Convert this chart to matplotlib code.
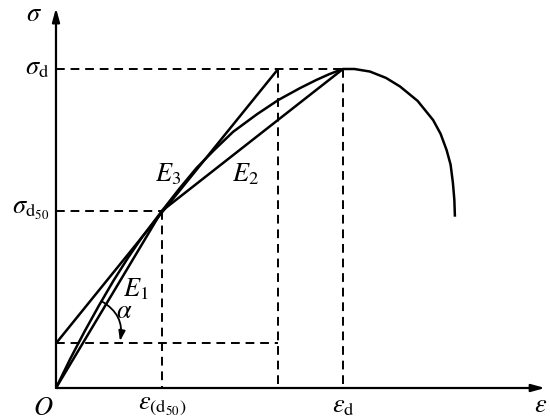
import matplotlib.pyplot as plt

plt.rcParams['mathtext.fontset'] = 'stix'
plt.rcParams['font.family'] = 'Liberation Serif'

# stress-strain curve (eps_d = 1, sigma_d = 1)
eps_curve = [0.0, 0.05, 0.1, 0.15, 0.2, 0.25, 0.3, 0.369, 0.43, 0.49, 0.55,
             0.617, 0.70, 0.775, 0.85, 0.908, 0.95, 0.99, 1.0, 1.04, 1.094,
             1.15, 1.199, 1.26, 1.314, 1.34, 1.361, 1.375, 1.383, 1.388, 1.390]
sig_curve = [0.0, 0.092, 0.178, 0.259, 0.336, 0.407, 0.473, 0.555, 0.625, 0.690,
             0.745, 0.803, 0.858, 0.903, 0.940, 0.966, 0.983, 0.997, 1.0, 1.0,
             0.992, 0.972, 0.945, 0.900, 0.840, 0.797, 0.746, 0.700, 0.643, 0.590, 0.537]

eps_d50, sig_d50 = 0.369, 0.555
eps_d, sig_d = 1.0, 1.0
eps_e3 = 0.774      # where the E3 tangent meets sigma_d
sig_0 = 0.14        # E3 tangent intercept on the sigma axis
eps_max, sig_max = 1.704, 1.191

fig = plt.figure(figsize=(5.5, 4.2), dpi=100)
ax = fig.add_axes([0, 0, 1, 1])
ax.set_xlim(-0.1951, 1.7213)
ax.set_ylim(-0.1003, 1.2163)
ax.axis('off')

arrow = dict(arrowstyle='-|>,head_length=0.8,head_width=0.22', color='black',
             lw=1.6, shrinkA=0, shrinkB=0)
ax.annotate('', xy=(eps_max, 0), xytext=(0, 0), arrowprops=arrow)
ax.annotate('', xy=(0, sig_max), xytext=(0, 0), arrowprops=arrow)

dash = dict(color='black', lw=1.4, ls=(0, (4.5, 3)))
ax.plot([0, eps_d], [sig_d, sig_d], **dash)
ax.plot([0, eps_d50], [sig_d50, sig_d50], **dash)
ax.plot([eps_d50, eps_d50], [sig_d50, 0], **dash)
ax.plot([eps_e3, eps_e3], [sig_d, 0], **dash)
ax.plot([eps_d, eps_d], [sig_d, 0], **dash)
ax.plot([0, eps_e3], [sig_0, sig_0], **dash)

solid = dict(color='black', lw=1.8, solid_capstyle='butt')
ax.plot(eps_curve, sig_curve, **solid)
ax.plot([0, eps_e3], [sig_0, sig_d], **solid)              # E3
ax.plot([eps_d50, eps_d], [sig_d50, sig_d], **solid)       # E2
ax.plot([0, eps_d50], [0, sig_d50], **solid)               # E1

ax.annotate('', xy=(0.223, 0.147), xytext=(0.159, 0.272),
            arrowprops=dict(arrowstyle='-|>,head_length=0.6,head_width=0.2',
                            color='black', lw=1.3, shrinkA=0, shrinkB=0,
                            connectionstyle='arc3,rad=-0.35'))

fs = 19
ax.text(-0.05, 1.17, r'$\sigma$', fontsize=fs, ha='right', va='center')
ax.text(-0.025, sig_d, r'$\sigma_{\mathrm{d}}$', fontsize=fs, ha='right', va='center')
ax.text(-0.025, sig_d50, r'$\sigma_{\mathrm{d}_{50}}$', fontsize=fs, ha='right', va='center')
ax.text(-0.01, -0.065, r'$O$', fontsize=fs, ha='right', va='center')
ax.text(eps_d50, -0.06, r'$\varepsilon_{(\mathrm{d}_{50})}$', fontsize=fs, ha='center', va='center')
ax.text(eps_d, -0.06, r'$\varepsilon_{\mathrm{d}}$', fontsize=fs, ha='center', va='center')
ax.text(1.69, -0.055, r'$\varepsilon$', fontsize=fs, ha='center', va='center')
ax.text(0.39, 0.67, r'$E_3$', fontsize=fs, ha='center', va='center')
ax.text(0.662, 0.67, r'$E_2$', fontsize=fs, ha='center', va='center')
ax.text(0.278, 0.31, r'$E_1$', fontsize=fs, ha='center', va='center')
ax.text(0.237, 0.237, r'$\alpha$', fontsize=fs, ha='center', va='center')

fig.savefig('out.png', dpi=100)
